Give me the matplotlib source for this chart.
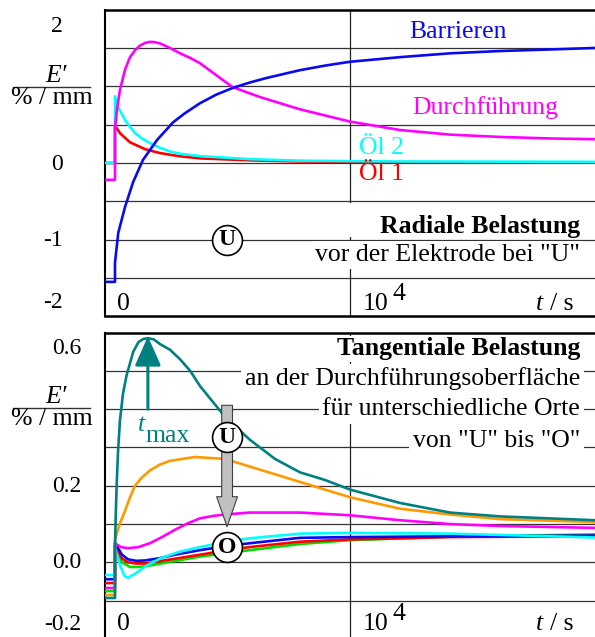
import numpy as np
import matplotlib.pyplot as plt
from matplotlib.patches import Rectangle

plt.rcParams['font.family'] = ['Liberation Serif', 'DejaVu Serif']

### figure size in pixels ###
W, H = 595, 637

def fx(px):
    return px / W

def fy(py):
    return 1 - py / H
#====================

### data: top panel (radial stress, E' in %/mm, t in s) ###
t_pre = [-430, 0]

bar_pre = -1.55
bar_t = [0, 140, 430, 770, 1190, 1790, 2470, 2980, 3620, 4300, 5020, 5740, 6470, 7870,
         8940, 10000, 12130, 14260, 16380, 18500, 20430]
bar_E = [-1.30, -0.91, -0.57, -0.25, 0.04, 0.30, 0.53, 0.65, 0.78, 0.89, 0.98, 1.05, 1.11, 1.21,
         1.27, 1.32, 1.38, 1.43, 1.46, 1.48, 1.50]

dur_pre = -0.22
dur_t = [0, 85, 210, 430, 640, 850, 1060, 1280, 1490, 1700, 1910, 2340, 2770, 3200, 3620,
         5000, 6170, 7870, 10000, 12130, 14260, 16380, 18500, 20430]
dur_E = [0.45, 0.70, 0.95, 1.22, 1.38, 1.47, 1.53, 1.565, 1.58, 1.575, 1.56, 1.50, 1.43, 1.37, 1.30,
         0.99, 0.86, 0.70, 0.54, 0.43, 0.37, 0.34, 0.32, 0.31]

oel2_pre = 0.0
oel2_t = [0, 130, 430, 640, 850, 1150, 1490, 1900, 2340, 2800, 3620, 5740, 7870, 12000, 20430]
oel2_E = [0.87, 0.73, 0.56, 0.47, 0.39, 0.32, 0.26, 0.20, 0.15, 0.12, 0.09, 0.05, 0.03, 0.02, 0.015]

oel1_pre = 0.0
oel1_t = [0, 210, 640, 1280, 1910, 2700, 3620, 5740, 7870, 12000, 20430]
oel1_E = [0.49, 0.39, 0.27, 0.18, 0.13, 0.09, 0.06, 0.035, 0.02, 0.01, 0.005]
#====================

### data: bottom panel (tangential stress, places "U" .. "O") ###
teal_pre = -0.093
teal_t = [0, 30, 70, 130, 210, 340, 500, 640, 780, 1000, 1200, 1400, 1650, 1910, 2340, 2770,
          3200, 3620, 4150, 4680, 5740, 6810, 7870, 8940, 10000, 12130, 14260, 16380, 20430]
teal_E = [0.03, 0.12, 0.20, 0.29, 0.37, 0.44, 0.49, 0.52, 0.55, 0.575, 0.583, 0.585, 0.582, 0.57,
          0.555, 0.53, 0.50, 0.46, 0.42, 0.38, 0.32, 0.27, 0.235, 0.215, 0.19, 0.155, 0.13, 0.12, 0.11]

orng_pre = -0.085
orng_t = [0, 200, 430, 640, 850, 1150, 1490, 1900, 2340, 3400, 4680, 5740, 6810, 7870,
          10000, 12130, 14260, 16380, 20430]
orng_E = [0.06, 0.10, 0.135, 0.17, 0.20, 0.222, 0.24, 0.255, 0.265, 0.275, 0.27, 0.25, 0.23, 0.21,
          0.17, 0.14, 0.125, 0.113, 0.105]

mag_pre = -0.067
mag_t = [0, 250, 550, 1000, 1490, 2000, 2550, 3100, 3620, 4150, 4680, 5740, 7870,
         10000, 12130, 14260, 16380, 20430]
mag_E = [0.05, 0.04, 0.037, 0.04, 0.05, 0.066, 0.085, 0.102, 0.115, 0.121, 0.125, 0.13, 0.13,
         0.123, 0.11, 0.10, 0.095, 0.09]

cyan_pre = -0.033
cyan_t = [0, 170, 400, 550, 850, 1300, 1910, 2700, 3620, 4700, 5740, 7870, 10000, 14260, 20430]
cyan_E = [0.04, 0.0, -0.035, -0.04, -0.03, -0.01, 0.01, 0.027, 0.04, 0.053, 0.063, 0.075, 0.077, 0.075, 0.065]

blue_pre = -0.044
blue_t = [0, 300, 550, 900, 1280, 1900, 2550, 3620, 4700, 5740, 7870, 10000, 14260, 20430]
blue_E = [0.05, 0.02, 0.008, 0.004, 0.005, 0.011, 0.02, 0.032, 0.042, 0.05, 0.064, 0.066, 0.068, 0.07]

red_pre = -0.054
red_t = [0, 300, 550, 900, 1280, 2400, 3620, 4700, 5740, 7870, 10000, 14260, 20430]
red_E = [0.045, 0.01, 0.0, -0.003, -0.003, 0.008, 0.02, 0.031, 0.04, 0.054, 0.06, 0.066, 0.068]

grn_pre = -0.075
grn_t = [0, 300, 640, 1000, 1490, 2500, 3620, 4700, 5740, 7870, 10000, 14260, 20430]
grn_E = [0.04, 0.0, -0.012, -0.012, -0.008, 0.003, 0.015, 0.024, 0.032, 0.048, 0.058, 0.067, 0.073]
#====================

### colours ###
c_blue = '#0a0af0'
c_mag = '#ff00ff'
c_cyan = '#00ffff'
c_red = '#ff0000'
c_teal = '#008080'
c_orng = '#ff9900'
c_grn = '#00dd00'
lw_curve = 1.9
fs = 18.5
#====================

def setup(ax, ylo, yhi, step):
    ax.set_xlim(-425, 20425)
    ax.set_ylim(ylo, yhi)
    ax.set_xticks([])
    ax.set_yticks([])
    for y in np.arange(ylo + step, yhi - step / 2, step):
        ax.axhline(y, color='#333333', lw=0.9, zorder=1)
    ax.axvline(1e4, color='#222222', lw=0.9, zorder=1)
    ax.spines['right'].set_visible(False)
    ax.spines['left'].set_linewidth(1.5)
    ax.spines['top'].set_linewidth(1.8)
    ax.spines['bottom'].set_linewidth(1.8)

def curve(ax, pre, t, E, color):
    ax.plot(t_pre + t, [pre, pre] + E, color=color, lw=lw_curve, zorder=3,
            solid_joinstyle='round')

def circ(ax, x, y, letter):
    ax.plot([x], [y], 'o', ms=21.5, mfc='white', mec='black', mew=1.2, zorder=6)
    ax.text(x, y, letter, ha='center', va='center', fontsize=17, fontweight='bold', zorder=7)

def ylabel(py):
    fig.text(fx(56), fy(py - 11), 'E\u2032', ha='center', va='center', fontsize=fs, style='italic')
    fig.add_artist(plt.Line2D([fx(13), fx(90)], [fy(py), fy(py)], color='#333333', lw=1.0))
    fig.text(fx(52), fy(py + 11), '% / mm', ha='center', va='center', fontsize=fs)

def xlabels(py):
    fig.text(fx(123), fy(py), '0', ha='center', va='center', fontsize=fs)
    fig.text(fx(376), fy(py), '10', ha='center', va='center', fontsize=fs)
    fig.text(fx(399), fy(py - 10), '4', ha='center', va='center', fontsize=fs)
    fig.text(fx(539), fy(py), 't', ha='center', va='center', fontsize=fs, style='italic')
    fig.text(fx(574), fy(py), '/ s', ha='right', va='center', fontsize=fs)

fig = plt.figure(figsize=(W / 100, H / 100), dpi=100)

### top panel ###
ax1 = fig.add_axes([fx(105), fy(316.4), (595 - 105) / W, (316.4 - 9.6) / H])
setup(ax1, -2, 2, 0.5)
curve(ax1, oel1_pre, oel1_t, oel1_E, c_red)
curve(ax1, oel2_pre, oel2_t, oel2_E, c_cyan)
curve(ax1, dur_pre, dur_t, dur_E, c_mag)
curve(ax1, bar_pre, bar_t, bar_E, c_blue)
circ(ax1, 4770, -1.0, 'U')

for txt, py in [('2', 27), ('0', 164), ('-1', 240), ('-2', 302)]:
    fig.text(fx(63), fy(py), txt, ha='right', va='center', fontsize=17)
ylabel(87)
xlabels(304)

fig.text(fx(458), fy(32), 'Barrieren', ha='center', va='center', fontsize=fs, color=c_blue)
fig.text(fx(485), fy(108), 'Durchführung', ha='center', va='center', fontsize=fs, color=c_mag)
fig.text(fx(359), fy(148), 'Öl 2', ha='left', va='center', fontsize=fs, color=c_cyan)
fig.text(fx(359), fy(174), 'Öl 1', ha='left', va='center', fontsize=fs, color=c_red)
fig.add_artist(Rectangle((fx(340), fy(237)), (583 - 340) / W, (237 - 203) / H,
                         transform=fig.transFigure, fc='white', ec='none', zorder=2))
fig.text(fx(580), fy(226), 'Radiale Belastung', ha='right', va='center', fontsize=fs,
         fontweight='bold', zorder=3)
fig.text(fx(580), fy(255), 'vor der Elektrode bei "U"', ha='right', va='center', fontsize=fs,
         bbox=dict(fc='white', ec='none', pad=2), zorder=3)
#====================

### bottom panel ###
ax2 = fig.add_axes([fx(105), fy(639), (595 - 105) / W, (639 - 332.5) / H])
setup(ax2, -0.2, 0.6, 0.1)
curve(ax2, grn_pre, grn_t, grn_E, c_grn)
curve(ax2, red_pre, red_t, red_E, c_red)
curve(ax2, blue_pre, blue_t, blue_E, c_blue)
curve(ax2, cyan_pre, cyan_t, cyan_E, c_cyan)
curve(ax2, mag_pre, mag_t, mag_E, c_mag)
curve(ax2, orng_pre, orng_t, orng_E, c_orng)
curve(ax2, teal_pre, teal_t, teal_E, c_teal)

# t_max arrow
ax2.annotate('', xy=(1400, 0.59), xytext=(1400, 0.40),
             arrowprops=dict(arrowstyle='-|>,head_length=0.9,head_width=0.4',
                             color=c_teal, lw=2.2, mutation_scale=20, shrinkA=0, shrinkB=0),
             zorder=5)
fig.text(fx(141), fy(425), 't', ha='center', va='center', fontsize=fs, style='italic', color=c_teal)
fig.text(fx(146), fy(436), 'max', ha='left', va='center', fontsize=fs, color=c_teal)

# grey arrow from "U" to "O"
ax2.annotate('', xy=(4770, 0.093), xytext=(4770, 0.41),
             arrowprops=dict(arrowstyle='simple,head_length=1.8,head_width=1.25,tail_width=0.65',
                             fc='#c0c0c0', ec='#404040', lw=0.8, mutation_scale=12,
                             shrinkA=0, shrinkB=0),
             zorder=5)
circ(ax2, 4770, 0.327, 'U')
circ(ax2, 4770, 0.04, 'O')

for txt, py in [('0.6', 348), ('0.2', 487), ('0.0', 563), ('-0.2', 625)]:
    fig.text(fx(81), fy(py), txt, ha='right', va='center', fontsize=17)
ylabel(408)
xlabels(624)

fig.text(fx(580), fy(349), 'Tangentiale Belastung', ha='right', va='center', fontsize=fs,
         fontweight='bold', bbox=dict(fc='white', ec='none', pad=1), zorder=3)
fig.text(fx(580), fy(379), 'an der Durchführungsoberfläche', ha='right', va='center', fontsize=fs,
         bbox=dict(fc='white', ec='none', pad=2.5), zorder=3)
fig.text(fx(580), fy(409), 'für unterschiedliche Orte', ha='right', va='center', fontsize=fs,
         bbox=dict(fc='white', ec='none', pad=2.5), zorder=3)
fig.text(fx(580), fy(441), 'von "U" bis "O"', ha='right', va='center', fontsize=fs,
         bbox=dict(fc='white', ec='none', pad=2.5), zorder=3)
#====================

fig.savefig('out.png', dpi=100)
